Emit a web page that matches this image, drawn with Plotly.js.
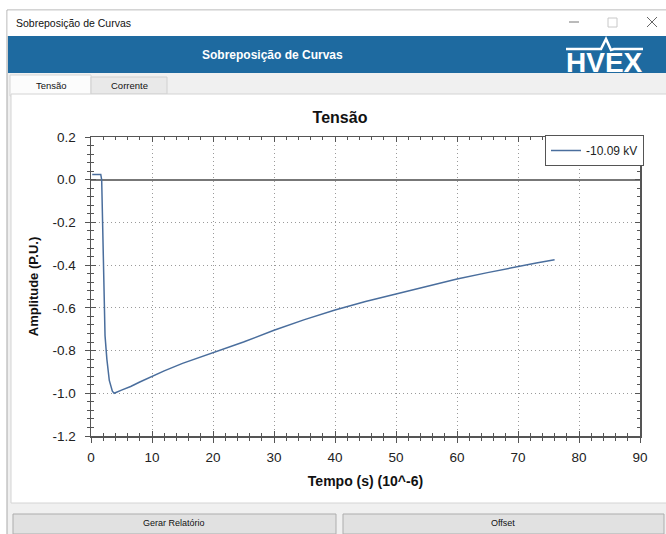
<!DOCTYPE html>
<html>
<head>
<meta charset="utf-8">
<script src="https://cdn.plot.ly/plotly-3.0.1.min.js"></script>
<style>html,body{margin:0;padding:0;background:#fff;}#chart{width:666px;height:534px;}</style>
</head>
<body>
<div id="chart"></div>
<script>
// ---- data ----
const seriesName = "-10.09 kV";
const timeUs = [0.2, 1.6, 1.75, 1.9, 2.1, 2.3, 2.6, 3.0, 3.5, 3.8, 5, 6.5, 8, 10, 12, 15, 18, 20, 25, 30, 35, 40, 45, 50, 55, 60, 65, 70, 73, 76];
const amplitudePU = [0.025, 0.025, 0.0, -0.22, -0.6, -0.73, -0.84, -0.94, -0.99, -1.0, -0.985, -0.968, -0.947, -0.92, -0.895, -0.86, -0.83, -0.81, -0.76, -0.705, -0.655, -0.61, -0.57, -0.535, -0.5, -0.465, -0.435, -0.405, -0.39, -0.375];
const xTickVals = [0, 10, 20, 30, 40, 50, 60, 70, 80, 90];
const xTickText = ["0", "10", "20", "30", "40", "50", "60", "70", "80", "90"];
const yTickVals = [0.2, 0.0, -0.2, -0.4, -0.6, -0.8, -1.0, -1.2];
const yTickText = ["0.2", "0.0", "-0.2", "-0.4", "-0.6", "-0.8", "-1.0", "-1.2"];

// ---- helpers for pixel placement of window chrome ----
const W = 666, H = 534;
const fx = p => p / W;
const fy = p => 1 - p / H;
function rect(x0, y0, x1, y1, fill, line, lw) {
  return {type: 'rect', xref: 'paper', yref: 'paper', layer: 'below',
    x0: fx(x0), x1: fx(x1), y0: fy(y0), y1: fy(y1),
    fillcolor: fill, line: {color: line || 'rgba(0,0,0,0)', width: lw === undefined ? 1 : lw}};
}
function seg(x0, y0, x1, y1, color, w) {
  return {type: 'line', xref: 'paper', yref: 'paper', layer: 'above',
    x0: fx(x0), x1: fx(x1), y0: fy(y0), y1: fy(y1), line: {color: color, width: w}};
}
function txt(x, y, text, size, color, opts) {
  return Object.assign({xref: 'paper', yref: 'paper', x: fx(x), y: fy(y), text: text,
    showarrow: false, xanchor: 'center', yanchor: 'middle',
    font: {family: 'Liberation Sans, Arial, sans-serif', size: size, color: color}}, opts || {});
}
function pathPx(pts) {
  return pts.map((p, i) => (i ? 'L' : 'M') + fx(p[0]) + ',' + fy(p[1])).join(' ');
}

const shapes = [
  rect(7, 10, 668, 540, '#f0f0f0', '#a9a9a9', 1),
  rect(7.5, 10.5, 668, 36, '#ffffff', null, 0),
  rect(8, 36, 668, 73, '#1e6aa0', null, 0),
  rect(10, 75, 91, 96, '#fcfcfc', '#d6d6d6', 1),
  rect(91, 77, 167, 94, '#e9e9e9', '#d0d0d0', 1),
  rect(11, 94, 668, 503, '#ffffff', '#d4d4d4', 1),
  rect(13, 514, 336, 534, '#e1e1e1', '#adadad', 1),
  rect(343, 514, 664, 534, '#e1e1e1', '#adadad', 1),
  // window controls
  seg(569, 22, 579, 22, '#777', 1),
  {type: 'rect', xref: 'paper', yref: 'paper', layer: 'above', x0: fx(608), x1: fx(617), y0: fy(27), y1: fy(18), line: {color: '#c8c8c8', width: 1}},
  seg(647, 17, 657, 27, '#666', 1),
  seg(647, 27, 657, 17, '#666', 1),
  // HVEX logo stroke
  {type: 'path', xref: 'paper', yref: 'paper', layer: 'above',
    path: pathPx([[566, 49], [601, 49], [606, 39], [611, 50], [614, 49], [643, 49]]),
    line: {color: '#ffffff', width: 2.5}}
];

const annotations = [
  txt(14, 23, 'Sobreposição de Curvas', 10.5, '#111', {xanchor: 'left'}),
  txt(272, 55, '<b>Sobreposição de Curvas</b>', 12, '#ffffff'),
  txt(604, 62, '<b>HVEX</b>', 28, '#ffffff'),
  txt(51, 85, 'Tensão', 9.5, '#111'),
  txt(129, 86, 'Corrente', 9.5, '#111'),
  txt(174, 523, 'Gerar Relatório', 9, '#111'),
  txt(503, 523, 'Offset', 9, '#111')
];

const plotL = 91, plotR = 640, plotT = 137, plotB = 436;
const xDom = [fx(plotL), fx(plotR)];
const yDom = [fy(plotB), fy(plotT)];

const axisFont = {family: 'Liberation Sans, Arial, sans-serif', size: 13.5, color: '#222'};

const traceMain = {
  x: timeUs, y: amplitudePU, type: 'scatter', mode: 'lines', name: seriesName,
  line: {color: '#4a6e9d', width: 1.5}, xaxis: 'x', yaxis: 'y'
};
const traceTicks = {
  x: timeUs, y: amplitudePU, type: 'scatter', mode: 'lines', showlegend: false,
  hoverinfo: 'skip', opacity: 0, line: {width: 0.1}, xaxis: 'x2', yaxis: 'y2'
};

const layout = {
  width: W, height: H,
  margin: {l: 0, r: 0, t: 0, b: 0},
  paper_bgcolor: '#ffffff', plot_bgcolor: 'rgba(0,0,0,0)',
  font: {family: 'Liberation Sans, Arial, sans-serif', color: '#222'},
  title: {text: '<b>Tensão</b>', x: fx(340), y: fy(117), xanchor: 'center', yanchor: 'middle', xref: 'paper', yref: 'paper',
    font: {family: 'Liberation Sans, Arial, sans-serif', size: 16, color: '#111'}},
  showlegend: true,
  legend: {x: fx(plotR + 4), y: fy(plotT - 2), xanchor: 'right', yanchor: 'top', xref: 'paper', yref: 'paper',
    bgcolor: '#ffffff', bordercolor: '#555', borderwidth: 1, itemwidth: 30,
    font: {family: 'Liberation Sans, Arial, sans-serif', size: 12, color: '#222'}},
  xaxis: {
    domain: xDom, range: [0, 90], tickmode: 'array', tickvals: xTickVals, ticktext: xTickText,
    ticks: 'outside', ticklen: 5, tickcolor: '#555', tickwidth: 1, ticklabelstandoff: 3,
    minor: {tickmode: 'linear', tick0: 0, dtick: 2, ticks: 'outside', ticklen: 3, tickcolor: '#555', showgrid: false},
    showline: true, linecolor: '#555', linewidth: 1.5, mirror: true,
    showgrid: true, gridcolor: '#9a9a9a', griddash: '1px,3px', gridwidth: 1, zeroline: false,
    tickfont: axisFont, anchor: 'y', fixedrange: true,
    title: {text: '<b>Tempo (s) (10^-6)</b>', standoff: 12, font: {family: 'Liberation Sans, Arial, sans-serif', size: 14, color: '#111'}}
  },
  yaxis: {
    domain: yDom, range: [-1.2, 0.2], tickmode: 'array', tickvals: yTickVals, ticktext: yTickText,
    ticks: 'outside', ticklen: 5, tickcolor: '#555', tickwidth: 1, ticklabelstandoff: 6,
    minor: {tickmode: 'linear', tick0: 0, dtick: 0.04, ticks: 'outside', ticklen: 3, tickcolor: '#555', showgrid: false},
    showline: true, linecolor: '#555', linewidth: 1.5, mirror: true,
    showgrid: true, gridcolor: '#9a9a9a', griddash: '1px,3px', gridwidth: 1,
    zeroline: true, zerolinecolor: '#777', zerolinewidth: 2,
    tickfont: axisFont, anchor: 'x', fixedrange: true,
    title: {text: '<b>Amplitude (P.U.)</b>', standoff: 11, font: {family: 'Liberation Sans, Arial, sans-serif', size: 13, color: '#111'}}
  },
  xaxis2: {
    domain: xDom, range: [0, 90], overlaying: 'x', anchor: 'y2', side: 'bottom',
    tickmode: 'array', tickvals: xTickVals, ticks: 'inside', ticklen: 5, tickcolor: '#555', mirror: 'ticks',
    minor: {tickmode: 'linear', tick0: 0, dtick: 2, ticks: 'inside', ticklen: 3, tickcolor: '#555', showgrid: false},
    showticklabels: false, showgrid: false, zeroline: false, showline: false, fixedrange: true
  },
  yaxis2: {
    domain: yDom, range: [-1.2, 0.2], overlaying: 'y', anchor: 'x2', side: 'left',
    tickmode: 'array', tickvals: yTickVals, ticks: 'inside', ticklen: 5, tickcolor: '#555', mirror: 'ticks',
    minor: {tickmode: 'linear', tick0: 0, dtick: 0.04, ticks: 'inside', ticklen: 3, tickcolor: '#555', showgrid: false},
    showticklabels: false, showgrid: false, zeroline: false, showline: false, fixedrange: true
  },
  shapes: shapes,
  annotations: annotations
};

Plotly.newPlot('chart', [traceMain, traceTicks], layout, {staticPlot: true, displayModeBar: false});
</script>
</body>
</html>
